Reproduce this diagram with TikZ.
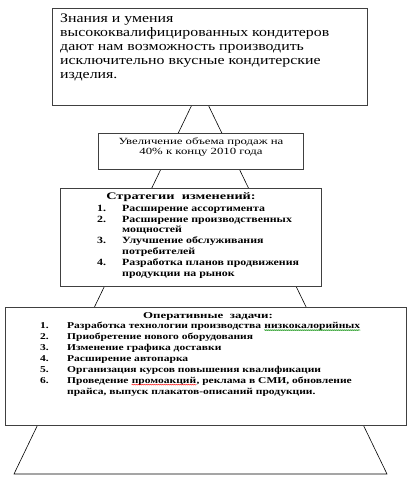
\documentclass[tikz,border=0pt]{standalone}
\usepackage{fontspec}
\setmainfont{Liberation Serif}
\newfontfamily\widefont[FakeStretch=1.22]{Liberation Serif}
\newfontfamily\widerfont[FakeStretch=1.36]{Liberation Serif}
\newfontfamily\widebold[FakeStretch=1.28]{Liberation Serif Bold}
\newfontfamily\midbold[FakeStretch=1.25]{Liberation Serif Bold}
\newfontfamily\widerbold[FakeStretch=1.43]{Liberation Serif Bold}
\usetikzlibrary{decorations.pathmorphing}

% spell-check underline
\newcommand{\squig}[2]{\tikz[baseline=(sq.base)]{\node[inner sep=0pt] (sq) {#2};
  \draw[#1, line width=0.4pt, decorate, decoration={snake, amplitude=0.5pt, segment length=2pt}]
    ([yshift=-1.3pt]sq.base west) -- ([yshift=-1.3pt]sq.base east);}}

\begin{document}
\begin{tikzpicture}[x=1pt, y=-1pt,
    box/.style={rectangle, draw=black!75, line width=0.8pt, fill=white, inner sep=0pt, anchor=north west},
    goaltext/.style={inner sep=0pt, anchor=north west, align=left, font=\widefont\fontsize{13}{14.1}\selectfont},
    smalltext/.style={inner sep=0pt, align=center, font=\widerfont\fontsize{9.4}{10.4}\selectfont},
    stratfont/.style={font=\midbold\fontsize{9.5}{10.8}\selectfont},
    taskfont/.style={font=\widebold\fontsize{9}{10.9}\selectfont},
    titlefont/.style={font=\widerbold\fontsize{#1}{10.9}\selectfont},
    listtext/.style={inner sep=0pt, anchor=north west},
    title/.style={inner sep=0pt},
    pyramid/.style={draw=black, line width=0.6pt}
]
\useasboundingbox (0,0) rectangle (416,487);

% Pyramid behind the boxes
\coordinate (apex) at (200,88);
\coordinate (baseL) at (14,474);
\coordinate (baseR) at (387,474);
\draw[pyramid] (apex) -- (baseL) -- (baseR) -- cycle;

% Boxes
\node[box, minimum width=315, minimum height=97] (goal) at (52,8) {};
\node[box, minimum width=205, minimum height=36] (sales) at (98,133) {};
\node[box, minimum width=261, minimum height=98] (strat) at (60,188) {};
\node[box, minimum width=401, minimum height=118] (tasks) at (5,307) {};

% Mission
\node[goaltext] (goaltxt) at (60,13.5) {Знания и умения\\
высококвалифицированных кондитеров\\
дают нам возможность производить\\
исключительно вкусные кондитерские\\
изделия.};

% Target
\node[smalltext] (salestxt) at (201,147) {Увеличение объема продаж на\\40\% к концу 2010 года};

% Strategies
\node[title, titlefont=10] (strattitle) at (181,197) {Стратегии\ \ изменений:};
\node[listtext, stratfont] (stratlist) at (97,203.5) {%
\begin{tabular}{@{}p{25pt}@{}l@{}}
1. & Расширение ассортимента\\
2. & Расширение производственных\\
   & мощностей\\
3. & Улучшение обслуживания\\
   & потребителей\\
4. & Разработка планов продвижения\\
   & продукции на рынок
\end{tabular}};

% Operational tasks
\node[title, titlefont=9] (taskstitle) at (208,316) {Оперативные\ \ задачи:};
\node[listtext, taskfont] (tasklist) at (40,321) {%
\begin{tabular}{@{}p{27pt}@{}l@{}}
1. & Разработка технологии производства \squig{green!55!black}{низкокалорийных}\\
2. & Приобретение нового оборудования\\
3. & Изменение графика доставки\\
4. & Расширение автопарка\\
5. & Организация курсов повышения квалификации\\
6. & Проведение \squig{red}{промоакций}, реклама в СМИ, обновление\\
   & прайса, выпуск плакатов-описаний продукции.
\end{tabular}};

\end{tikzpicture}
\end{document}
